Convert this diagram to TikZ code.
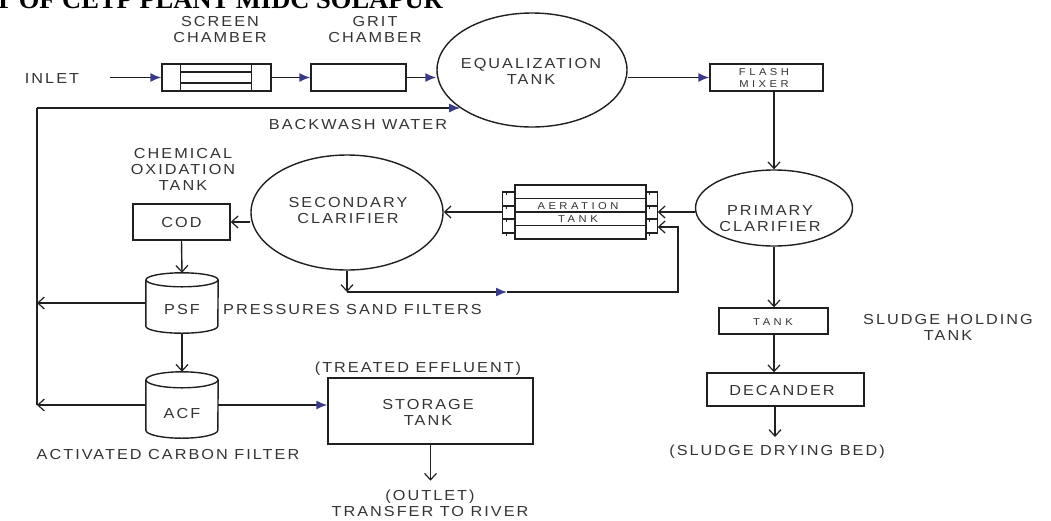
\documentclass[tikz,border=0pt]{standalone}
\usepackage{fontspec}
\setmainfont{Liberation Sans}
\newfontfamily\lbl[LetterSpace=14,FakeStretch=1.12]{Liberation Sans}
\newfontfamily\lbls[LetterSpace=35,FakeStretch=1.12]{Liberation Sans}
\newfontfamily\ttlfont{Liberation Serif}
\usetikzlibrary{arrows.meta,shapes.geometric,calc}
\definecolor{ink}{HTML}{202020}
\definecolor{txt}{HTML}{333333}
\definecolor{arrblue}{HTML}{3A3A8A}
\begin{document}
\begin{tikzpicture}[x=1pt,y=-1pt,
  box/.style={draw=ink, line width=1.4pt, inner sep=0pt},
  tank/.style={ellipse, draw=ink, line width=1.4pt, inner sep=0pt},
  lab/.style={text=txt, font=\lbl\fontsize{14.5}{16}\selectfont, align=center, inner sep=0pt},
  slab/.style={text=txt, font=\lbls\fontsize{10}{12}\selectfont, align=center, inner sep=0pt},
  plain/.style={draw=ink, line width=1.4pt},
  flow/.style={draw=ink, line width=1.4pt, -{Latex[length=11pt,width=9pt,color=arrblue,fill=arrblue]}},
  open/.style={draw=ink, line width=1.4pt, -{Straight Barb[length=6.5pt,width=12pt,line width=1.2pt]}}]
\useasboundingbox (0,0) rectangle (1051,520);

% title (cut off at top edge as in the reference)
\node[anchor=base east, inner sep=0pt, font=\ttlfont\bfseries\fontsize{26.5}{28}\selectfont] (title) at (443,8) {T OF CETP PLANT MIDC SOLAPUR};

% ---- top row
\node[lab] (inlet) at (52,79) {INLET};
\coordinate (in0) at (110,77.5);
\node[box, minimum width=109, minimum height=27] (scr) at (216.5,77.5) {};
\draw[plain] ($(scr.north west)+(19,0)$) -- ($(scr.south west)+(19,0)$);
\draw[plain] ($(scr.north east)+(-20,0)$) -- ($(scr.south east)+(-20,0)$);
\draw[plain] ($(scr.west)+(19,-5.5)$) -- ($(scr.east)+(-20,-5.5)$);
\draw[plain] ($(scr.west)+(19,5.5)$) -- ($(scr.east)+(-20,5.5)$);
\node[lab] (scrlab) at (220,30) {SCREEN\\CHAMBER};
\node[box, minimum width=95, minimum height=27] (grit) at (358.5,77.5) {};
\node[lab] (gritlab) at (375,30) {GRIT\\CHAMBER};
\node[tank, minimum width=190, minimum height=114] (eq) at (532,70) {};
\node[lab] (eqlab) at (531,71.5) {EQUALIZATION\\TANK};
\node[box, minimum width=113, minimum height=27] (flash) at (766.5,77.5) {};
\node[slab] (flashlab) at (764,78) {FLASH\\MIXER};

\draw[flow] (in0) -- (scr.west);
\draw[flow] (scr.east) -- (grit.west);
\draw[flow] (grit.east) -- (grit.east -| eq.west);
\draw[flow] (flash.west -| eq.east) -- (flash.west);

% backwash loop
\coordinate (bwl) at (37,108);
\draw[flow] (bwl) -- (bwl -| eq.208);
\node[lab] (bwlab) at (358,125) {BACKWASH WATER};

% ---- primary clarifier and aeration
\node[tank, minimum width=157, minimum height=76] (prim) at (774,208) {};
\node[lab] (primlab) at (770,219) {PRIMARY\\CLARIFIER};
\draw[open] (flash.south -| prim.north) -- (prim.north);

\node[box, minimum width=131, minimum height=54] (aer) at (580.5,212) {};
\foreach \dy in {-13.5,0,13.5} {\draw[plain] ($(aer.west)+(0,\dy)$) -- ($(aer.east)+(0,\dy)$);}
\node[slab] (aerlab1) at (578,206) {AERATION};
\node[slab] (aerlab2) at (578,219.5) {TANK};
\draw[plain] ($(aer.west)+(-12,-20)$) -- ($(aer.west)+(-12,21)$);
\draw[plain] ($(aer.east)+(11,-20)$) -- ($(aer.east)+(11,21)$);
\foreach \dy in {-20,-6,7,21} {
  \draw[plain] ($(aer.west)+(-12,\dy)$) -- ($(aer.west)+(0,\dy)$);
  \draw[plain, line width=1pt] ($(aer.west)+(-8,\dy)$) -- ($(aer.west)+(-8,\dy+2.5)$);
  \draw[plain] ($(aer.east)+(0,\dy)$) -- ($(aer.east)+(11,\dy)$);
  \draw[plain, line width=1pt] ($(aer.east)+(3,\dy)$) -- ($(aer.east)+(3,\dy+2.5)$);
}
\coordinate (ar1) at ($(aer.east)+(11,0)$);
\coordinate (ar2) at ($(aer.east)+(11,15)$);
\coordinate (al1) at ($(aer.west)+(-12,0)$);
\draw[open] (ar1 -| prim.west) -- (ar1);

% ---- secondary clarifier
\node[tank, minimum width=192, minimum height=115] (sec) at (347,212.5) {};
\node[lab] (seclab) at (348,211) {SECONDARY\\CLARIFIER};
\draw[open] (al1) -- (al1 -| sec.east);

% loop from secondary bottom back to aeration
\coordinate (lpA) at (347,292);
\coordinate (lpM) at (507,292);
\coordinate (lpB) at (678,292);
\draw[open] (sec.south) -- (lpA);
\draw[flow] (lpA) -- (lpM);
\draw[open] (lpM) -- (lpB) -- (lpB |- ar2) -- (ar2);

% ---- COD
\node[lab] (chemlab) at (183,169) {CHEMICAL\\OXIDATION\\TANK};
\node[box, minimum width=97, minimum height=36] (cod) at (181.5,222) {};
\node[lab] (codlab) at (181.5,223) {COD};
\draw[open] (cod.east -| sec.west) -- (cod.east);

% ---- PSF cylinder
\node[inner sep=0pt, minimum width=72, minimum height=60] (psf) at (182,303) {};
\draw[plain] ($(psf.north)+(0,7)$) ellipse [x radius=36, y radius=7];
\draw[plain] ($(psf.north west)+(0,7)$) -- ($(psf.south west)+(0,-7)$)
  arc[start angle=180, end angle=0, x radius=36, y radius=7]
  -- ($(psf.north east)+(0,7)$);
\node[lab] (psflab) at (182,310) {PSF};
\node[lab, anchor=west] (psfname) at (223,310) {PRESSURES SAND FILTERS};
\draw[open] (cod.south) -- (psf.north);
\draw[open] (psf.west) -- (psf.west -| bwl);

% ---- ACF cylinder
\node[inner sep=0pt, minimum width=72, minimum height=66] (acf) at (182,405) {};
\draw[plain] ($(acf.north)+(0,8)$) ellipse [x radius=36, y radius=8];
\draw[plain] ($(acf.north west)+(0,8)$) -- ($(acf.south west)+(0,-8)$)
  arc[start angle=180, end angle=0, x radius=36, y radius=8]
  -- ($(acf.north east)+(0,8)$);
\node[lab] (acflab) at (182,413) {ACF};
\node[lab] (acfname) at (168,454) {ACTIVATED CARBON FILTER};
\draw[open] (psf.south) -- (acf.north);
\draw[open] (acf.west) -- (acf.west -| bwl);
\draw[plain] (bwl) -- (acf.west -| bwl);

% ---- storage tank
\node[lab] (treated) at (418,369) {(TREATED EFFLUENT)};
\node[box, minimum width=205, minimum height=66] (sto) at (430.5,411) {};
\node[lab] (stolab) at (428,412.5) {STORAGE\\TANK};
\draw[flow] (acf.east) -- (acf.east -| sto.west);
\coordinate (outl) at ($(sto.south)+(0,36)$);
\draw[open] (sto.south) -- (outl);
\node[lab] (outlab) at (430,503.5) {(OUTLET)\\TRANSFER TO RIVER};

% ---- sludge line
\node[box, minimum width=109, minimum height=26] (stank) at (773.5,321) {};
\node[slab] (stanklab) at (773,322) {TANK};
\node[lab] (sholdlab) at (948,327) {SLUDGE HOLDING\\TANK};
\node[box, minimum width=157, minimum height=33] (dec) at (785.5,389.5) {};
\node[lab] (declab) at (782,390) {DECANDER};
\coordinate (sdb) at (775,437);
\node[lab] (sdblab) at (777,452) {(SLUDGE DRYING BED)};
\draw[open] (prim.south) -- (prim.south |- stank.north);
\draw[open] (stank.south -| prim.south) -- (prim.south |- dec.north);
\draw[open] (dec.south -| sdb) -- (sdb);
\end{tikzpicture}
\end{document}
